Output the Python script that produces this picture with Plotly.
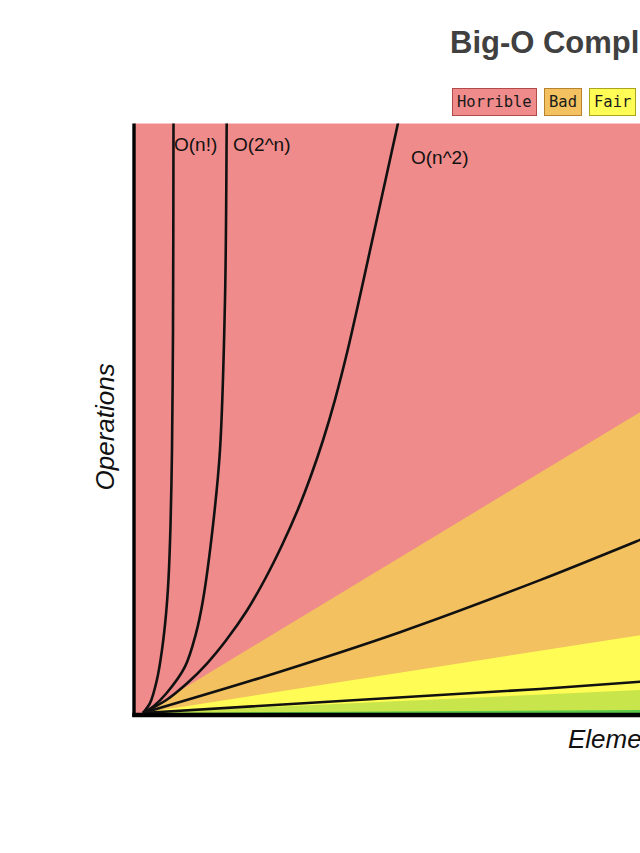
import plotly.graph_objects as go

W, H = 640, 853

# ---- data (x = elements, y = operations) ----
title_text = "Big-O Complexity Chart"
legend_labels = ["Horrible", "Bad", "Fair"]
x_label = "Elements"
y_label = "Operations"

# region boundaries (lines from the origin)
boundary_x = [0.9, 50.6]
bound_horrible_bad = [0.34, 51.2]
bound_bad_fair = [0.34, 13.5]
bound_fair_good = [0.34, 4.23]
bound_good_excellent = [0.34, 0.85]

# complexity curves
fact_x = [0.9, 1.6, 2.3, 2.8, 3.2, 3.45, 3.65, 3.8, 3.9, 3.95, 3.95]
fact_y = [0.34, 2.0, 6.0, 11.0, 17.0, 23.0, 32.0, 44.8, 65.0, 100, 110]

exp_x = [0.9, 1.9, 3.27, 5.1, 6.2, 6.9, 7.9, 8.6, 9.1, 9.27, 9.3]
exp_y = [0.34, 1.4, 3.72, 8.17, 13.8, 19.44, 32.1, 44.8, 70.2, 100, 110]

sq_x = [0.9, 3.24, 5.34, 7.25, 9.23, 11.33, 13.16, 14.81, 16.37, 17.72, 18.91,
        20.09, 21.37, 22.51, 23.61, 24.71, 25.81, 26.39, 26.6]
sq_y = [0.34, 2.54, 5.41, 8.62, 12.68, 17.75, 23.16, 28.74, 34.66, 40.58, 46.49,
        53.25, 61.71, 70.16, 78.61, 87.07, 95.52, 100, 102]

nlogn_x = [0.9, 12.6, 26.6, 40.6, 50.6, 56.6]
nlogn_y = [0.34, 6.26, 14.0, 22.8, 29.6, 33.8]

lin_x = [0.9, 40.6, 50.6, 56.6]
lin_y = [0.34, 4.4, 5.63, 6.4]

curve_labels = ["O(n!)", "O(2^n)", "O(n^2)"]
curve_label_x = [3.8, 9.65, 27.47]
curve_label_y = [96.5, 96.5, 94.25]

# ---- styles ----
C_RED = "#EF8B8B"
C_ORANGE = "#F3C15F"
C_YELLOW = "#FFFD55"
C_LGREEN = "#C8E64B"
C_DGREEN = "#5CC84A"
legend_bg = [C_RED, C_ORANGE, C_YELLOW]
legend_border = ["#B24A4A", "#B9822E", "#A9A520"]
legend_cx = [494.8, 563.2, 612.0]

fig = go.Figure()

def region(yvals, color):
    fig.add_trace(go.Scatter(x=boundary_x, y=yvals, mode="lines", line=dict(width=0, color=color),
                             fill="tozeroy", fillcolor=color, hoverinfo="skip", showlegend=False))

region(bound_horrible_bad, C_ORANGE)
region(bound_bad_fair, C_YELLOW)
region(bound_fair_good, C_LGREEN)
region(bound_good_excellent, C_DGREEN)

curve_specs = [
    (fact_x, fact_y, "spline", 0.8),
    (exp_x, exp_y, "spline", 1.0),
    (sq_x, sq_y, "spline", 0.8),
    (nlogn_x, nlogn_y, "spline", 0.8),
    (lin_x, lin_y, "linear", 0),
]
for xs, ys, shp, sm in curve_specs:
    line = dict(color="#111111", width=2.6, shape=shp)
    if shp == "spline":
        line["smoothing"] = sm
    fig.add_trace(go.Scatter(x=xs, y=ys, mode="lines", line=line, hoverinfo="skip", showlegend=False))

for t, x, y in zip(curve_labels, curve_label_x, curve_label_y):
    fig.add_annotation(x=x, y=y, xref="x", yref="y", text=t, showarrow=False, xanchor="left", yanchor="middle",
                       font=dict(family="Liberation Sans, Arial", size=19, color="#111111"))

def px_x(p):
    return p / W

def px_y(p):
    return 1 - p / H

# title
fig.add_annotation(x=px_x(448), y=px_y(42.6), xref="paper", yref="paper", text="<b>" + title_text + "</b>",
                   showarrow=False, xanchor="left", yanchor="middle",
                   font=dict(family="Liberation Sans, Arial", size=31, color="#404040"))

# legend boxes
for t, cx, bg, bc in zip(legend_labels, legend_cx, legend_bg, legend_border):
    fig.add_annotation(x=px_x(cx), y=px_y(101.7), xref="paper", yref="paper", text=t, showarrow=False,
                       xanchor="center", yanchor="middle", bgcolor=bg, bordercolor=bc, borderwidth=1, borderpad=4,
                       font=dict(family="DejaVu Sans Mono, monospace", size=15.5, color="#1a1a1a"))

# axis titles
fig.add_annotation(x=px_x(104.5), y=px_y(427), xref="paper", yref="paper", text="<i>" + y_label + "</i>",
                   showarrow=False, textangle=-90, xanchor="center", yanchor="middle",
                   font=dict(family="Liberation Sans, Arial", size=26, color="#111111"))
fig.add_annotation(x=px_x(565.5), y=px_y(739.2), xref="paper", yref="paper", text="<i>" + x_label + "</i>",
                   showarrow=False, xanchor="left", yanchor="middle",
                   font=dict(family="Liberation Sans, Arial", size=26, color="#111111"))

# axis lines
fig.add_shape(type="line", xref="paper", yref="paper", x0=px_x(134), x1=px_x(134), y0=px_y(123.5), y1=px_y(717),
              line=dict(color="#000000", width=3.4))
fig.add_shape(type="line", xref="paper", yref="paper", x0=px_x(132.3), x1=px_x(645), y0=px_y(715), y1=px_y(715),
              line=dict(color="#000000", width=4.5))

fig.update_layout(
    width=W, height=H, autosize=False,
    margin=dict(l=0, r=0, t=0, b=0),
    paper_bgcolor="white", plot_bgcolor=C_RED,
    xaxis=dict(domain=[134 / W, 1], range=[0, 50.6], visible=False, fixedrange=True),
    yaxis=dict(domain=[(H - 715) / H, (H - 123.5) / H], range=[0, 100], visible=False, fixedrange=True),
    showlegend=False,
)

fig.write_html("out.html")
